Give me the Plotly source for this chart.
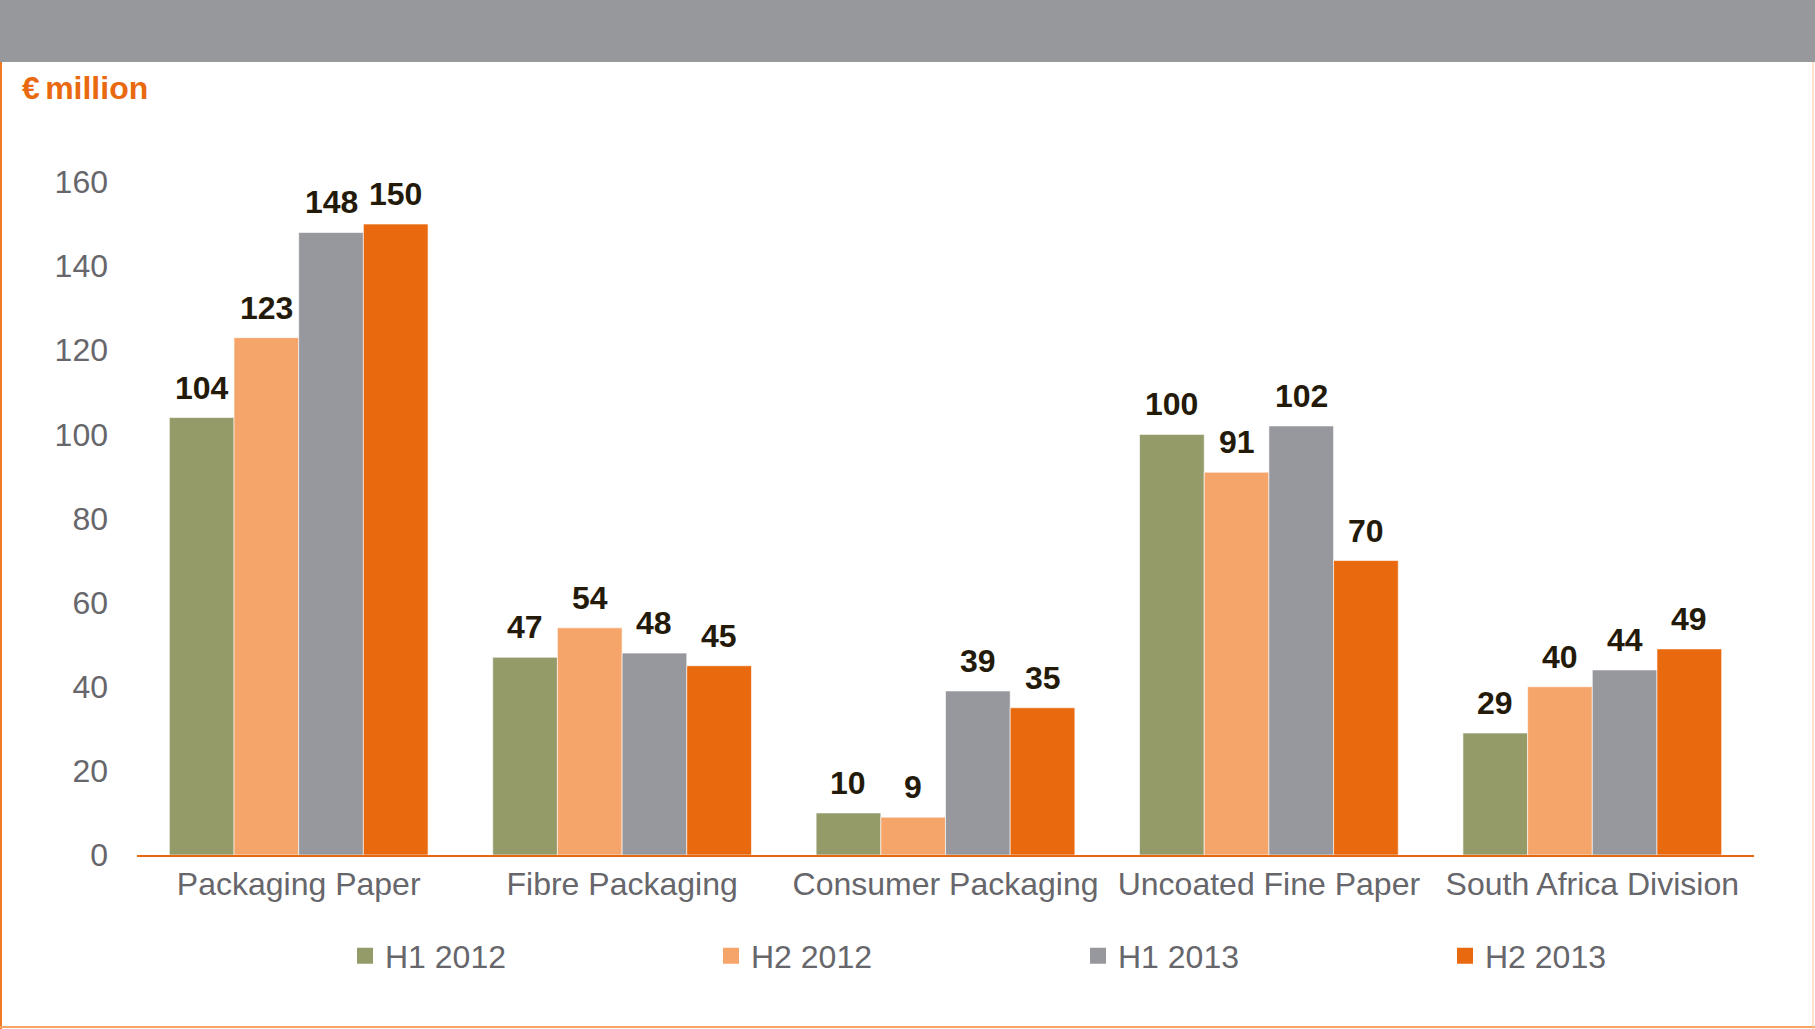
import plotly.graph_objects as go

# Segment data, € million
categories = ["Packaging Paper", "Fibre Packaging", "Consumer Packaging",
              "Uncoated Fine Paper", "South Africa Division"]
series_names = ["H1 2012", "H2 2012", "H1 2013", "H2 2013"]
h1_2012 = [104, 47, 10, 100, 29]
h2_2012 = [123, 54, 9, 91, 40]
h1_2013 = [148, 48, 39, 102, 44]
h2_2013 = [150, 45, 35, 70, 49]
y_ticks = [0, 20, 40, 60, 80, 100, 120, 140, 160]

series_values = [h1_2012, h2_2012, h1_2013, h2_2013]
colors = ["#949a68", "#f6a56a", "#97989d", "#e9690f"]

FONT = "Liberation Sans, Arial, sans-serif"
AXIS_TEXT = "#66666b"
LABEL_TEXT = "#231a0a"
ORANGE = "#e9690f"

W, H = 1815, 1029
ML, MR, MT, MB = 137, 61, 182, 174
PW, PH = W - ML - MR, H - MT - MB


def px_x(px):
    return (px - ML) / PW


def px_y(py):
    return (H - MB - py) / PH


fig = go.Figure()

n_series = len(series_values)
bargap = 0.2
bar_w = (1 - bargap) / n_series

# legend swatch centres (px) along the bottom row
legend_px = [365, 731, 1098, 1465]
legend_ids = ["legend", "legend2", "legend3", "legend4"]

annotations = []
legends = {}
for i, (name, vals, col) in enumerate(zip(series_names, series_values, colors)):
    fig.add_trace(go.Bar(
        name=name, x=categories, y=vals,
        marker=dict(color=col, line=dict(color="rgba(255,255,255,0.6)", width=1)),
        showlegend=False,
    ))
    fig.add_trace(go.Scatter(
        name=name, x=[None], y=[None], mode="markers",
        marker=dict(symbol="square", size=17, color=col),
        legend=legend_ids[i],
    ))
    legends[legend_ids[i]] = dict(
        orientation="h", x=px_x(legend_px[i] - 20), xanchor="left",
        y=px_y(956), yanchor="middle", borderwidth=0,
        font=dict(family=FONT, size=32, color=AXIS_TEXT),
        bgcolor="rgba(0,0,0,0)", itemclick=False, itemdoubleclick=False,
    )
    offset = (i - (n_series - 1) / 2) * bar_w
    for j, v in enumerate(vals):
        annotations.append(dict(
            x=j + offset, y=v, xref="x", yref="y", text=str(v),
            showarrow=False, yanchor="middle", yshift=30,
            font=dict(family=FONT, size=32, color=LABEL_TEXT, weight="bold"),
        ))

shapes = [
    # header band
    dict(type="rect", xref="paper", yref="paper",
         x0=px_x(0), x1=px_x(W), y0=px_y(62), y1=px_y(0),
         fillcolor="#97989c", line=dict(width=0), layer="below"),
    # frame: left, bottom, right
    dict(type="line", xref="paper", yref="paper",
         x0=px_x(1), x1=px_x(1), y0=px_y(62), y1=px_y(H),
         line=dict(color="#f07a22", width=2)),
    dict(type="line", xref="paper", yref="paper",
         x0=px_x(0), x1=px_x(W), y0=px_y(H - 2), y1=px_y(H - 2),
         line=dict(color="#f7a565", width=2)),
    dict(type="line", xref="paper", yref="paper",
         x0=px_x(W - 2), x1=px_x(W - 2), y0=px_y(62), y1=px_y(H),
         line=dict(color="#f9c49a", width=1)),
]

fig.update_layout(
    width=W, height=H,
    margin=dict(l=ML, r=MR, t=MT, b=MB, pad=0),
    paper_bgcolor="white", plot_bgcolor="white",
    barmode="group", bargap=bargap, bargroupgap=0,
    font=dict(family=FONT, size=32, color=AXIS_TEXT),
    title=dict(text="<b>€\u2006million</b>", xref="container", yref="container",
               x=22 / W, y=1 - 88 / H, xanchor="left", yanchor="middle",
               font=dict(family=FONT, size=32, color=ORANGE)),
    xaxis=dict(showline=True, linecolor=ORANGE, linewidth=2,
               showgrid=False, zeroline=False, ticks="",
               ticklabelstandoff=0,
               tickfont=dict(family=FONT, size=32, color=AXIS_TEXT)),
    yaxis=dict(range=[0, 160], tickvals=y_ticks, showgrid=False,
               zeroline=False, showline=False, ticks="",
               ticklabelstandoff=28,
               tickfont=dict(family=FONT, size=32, color=AXIS_TEXT)),
    annotations=annotations,
    shapes=shapes,
    **legends,
)

fig.write_html("out.html")
